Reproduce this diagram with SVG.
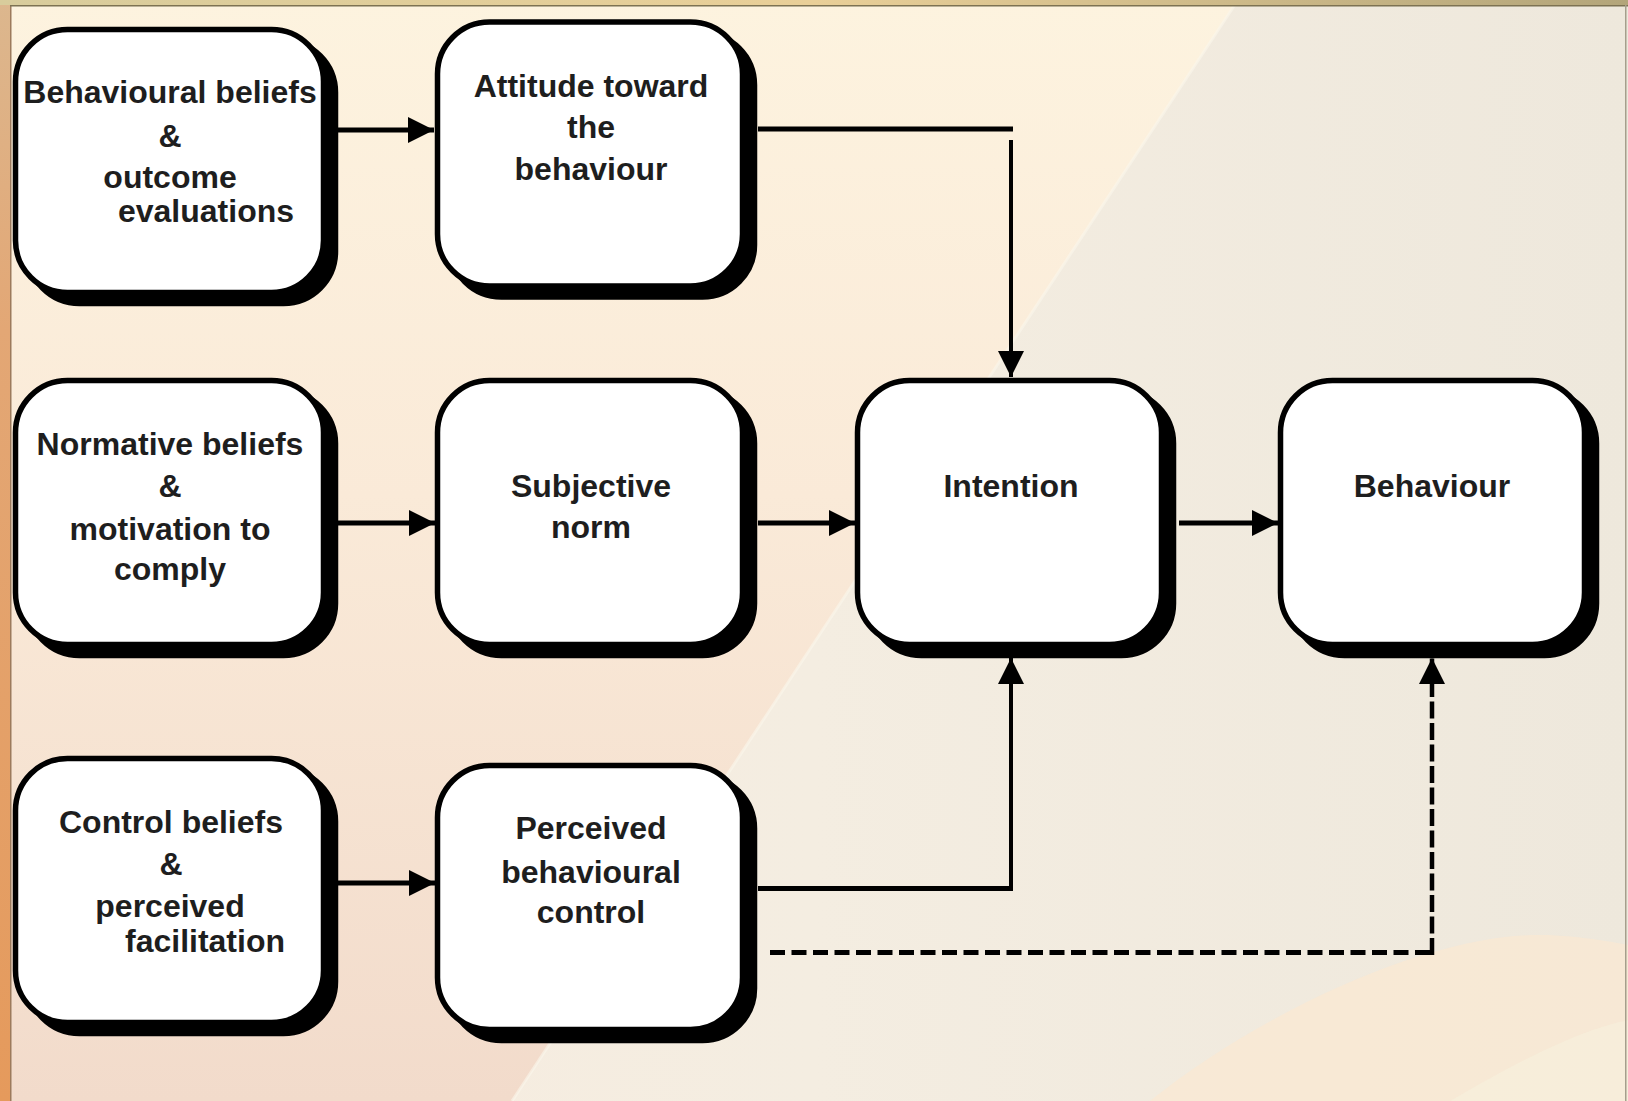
<svg xmlns="http://www.w3.org/2000/svg" width="1628" height="1101" viewBox="0 0 1628 1101">
<style>
.box{fill:#fff;stroke:#000;stroke-width:5.5}
.sh{fill:#000;stroke:#000;stroke-width:5.5}
.t{font-family:"Liberation Sans",Arial,sans-serif;font-weight:bold;font-size:32px;fill:#1e1e1e;text-anchor:middle}
.c{fill:none;stroke:#000;stroke-width:5}
.cv{fill:none;stroke:#000;stroke-width:4}
.d{fill:none;stroke:#000;stroke-width:5;stroke-dasharray:15 6.5}
.dv{fill:none;stroke:#000;stroke-width:4.5;stroke-dasharray:17 4.5}
</style>
<defs>
<marker id="ah" markerUnits="userSpaceOnUse" markerWidth="27" markerHeight="26" refX="26" refY="13" orient="auto">
<path d="M0,0 L26,13 L0,26 z" fill="#000"/>
</marker>
<linearGradient id="bg" x1="0" y1="0" x2="1" y2="0">
<stop offset="0" stop-color="#f8ecdf"/>
<stop offset="0.5" stop-color="#f4ede1"/>
<stop offset="1" stop-color="#eee8dc"/>
</linearGradient>
<linearGradient id="warm" x1="0" y1="0" x2="0" y2="1">
<stop offset="0" stop-color="#fdf3df"/>
<stop offset="0.45" stop-color="#faead8"/>
<stop offset="1" stop-color="#f2dbcb"/>
</linearGradient>
<linearGradient id="lstrip" x1="0" y1="0" x2="0" y2="1">
<stop offset="0" stop-color="#dcb78e"/>
<stop offset="0.3" stop-color="#e3a775"/>
<stop offset="1" stop-color="#e59a5c"/>
</linearGradient>
<linearGradient id="tstrip" x1="0" y1="0" x2="1" y2="0">
<stop offset="0" stop-color="#d8cc9c"/>
<stop offset="0.5" stop-color="#e9cf98"/>
<stop offset="1" stop-color="#b3a57a"/>
</linearGradient>
</defs>

<g id="background">
<rect x="0" y="0" width="1628" height="1101" fill="url(#bg)"/>
<polygon points="0,0 1238,0 512,1101 0,1101" fill="url(#warm)"/>
<line x1="1238" y1="0" x2="512" y2="1101" stroke="#fbf7ec" stroke-width="3" opacity="0.6"/>
<path d="M1150,1101 C1250,1020 1420,935 1540,935 C1580,935 1628,945 1628,945 L1628,1101 Z" fill="#fbe8d2" opacity="0.7"/>
<path d="M1450,1101 C1520,1060 1580,1030 1628,1020 L1628,1101 Z" fill="#f6f0dc" opacity="0.7"/>
<rect x="0" y="0" width="10" height="1101" fill="url(#lstrip)"/>
<rect x="10" y="5" width="1.5" height="1096" fill="#9c7a5c"/>
<rect x="0" y="0" width="1628" height="5" fill="url(#tstrip)"/>
<rect x="10" y="5" width="1618" height="1.5" fill="#7d7252"/>
<rect x="1625" y="5" width="1.5" height="1096" fill="#a59f8c"/>
</g>

<g id="connectors">
<path class="c" d="M338,130 H434" marker-end="url(#ah)"/>
<path class="c" d="M758,129 H1013"/>
<path class="cv" d="M1011,140 V377" marker-end="url(#ah)"/>
<path class="c" d="M338,523 H435" marker-end="url(#ah)"/>
<path class="c" d="M758,523 H855" marker-end="url(#ah)"/>
<path class="c" d="M1179,523 H1278" marker-end="url(#ah)"/>
<path class="c" d="M337,883 H435" marker-end="url(#ah)"/>
<path class="c" d="M758,888.5 H1013"/>
<path class="cv" d="M1011,891 V658" marker-end="url(#ah)"/>
<path class="d" d="M770,952.5 H1434"/>
<path class="dv" d="M1432,955 V658" marker-end="url(#ah)"/>
</g>

<g id="node-behavioural-beliefs">
<rect class="sh" x="27.5" y="40.5" width="308" height="263" rx="52"/>
<rect class="box" x="15.5" y="29.5" width="308" height="263" rx="52"/>
<text class="t" x="170" y="103">Behavioural beliefs</text>
<text class="t" x="170" y="147">&amp;</text>
<text class="t" x="170" y="188">outcome</text>
<text class="t" x="206" y="222">evaluations</text>
</g>

<g id="node-attitude">
<rect class="sh" x="449.5" y="33" width="305" height="264" rx="52"/>
<rect class="box" x="437.5" y="22" width="305" height="264" rx="52"/>
<text class="t" x="591" y="97">Attitude toward</text>
<text class="t" x="591" y="138">the</text>
<text class="t" x="591" y="180">behaviour</text>
</g>

<g id="node-normative-beliefs">
<rect class="sh" x="27.5" y="391.5" width="308" height="264" rx="52"/>
<rect class="box" x="15.5" y="380.5" width="308" height="264" rx="52"/>
<text class="t" x="170" y="455">Normative beliefs</text>
<text class="t" x="170" y="497">&amp;</text>
<text class="t" x="170" y="540">motivation to</text>
<text class="t" x="170" y="580">comply</text>
</g>

<g id="node-subjective-norm">
<rect class="sh" x="449.5" y="391.5" width="305" height="264" rx="52"/>
<rect class="box" x="437.5" y="380.5" width="305" height="264" rx="52"/>
<text class="t" x="591" y="497">Subjective</text>
<text class="t" x="591" y="538">norm</text>
</g>

<g id="node-intention">
<rect class="sh" x="869.5" y="391.5" width="304" height="264" rx="52"/>
<rect class="box" x="857.5" y="380.5" width="304" height="264" rx="52"/>
<text class="t" x="1011" y="497">Intention</text>
</g>

<g id="node-behaviour">
<rect class="sh" x="1292.5" y="391.5" width="304" height="264" rx="52"/>
<rect class="box" x="1280.5" y="380.5" width="304" height="264" rx="52"/>
<text class="t" x="1432" y="497">Behaviour</text>
</g>

<g id="node-control-beliefs">
<rect class="sh" x="27.5" y="769.5" width="308" height="264" rx="52"/>
<rect class="box" x="15.5" y="758.5" width="308" height="264" rx="52"/>
<text class="t" x="171" y="833">Control beliefs</text>
<text class="t" x="171" y="875">&amp;</text>
<text class="t" x="170" y="917">perceived</text>
<text class="t" x="205" y="952">facilitation</text>
</g>

<g id="node-perceived-behavioural-control">
<rect class="sh" x="449.5" y="776.5" width="305" height="264" rx="52"/>
<rect class="box" x="437.5" y="765.5" width="305" height="264" rx="52"/>
<text class="t" x="591" y="839">Perceived</text>
<text class="t" x="591" y="883">behavioural</text>
<text class="t" x="591" y="923">control</text>
</g>
</svg>
